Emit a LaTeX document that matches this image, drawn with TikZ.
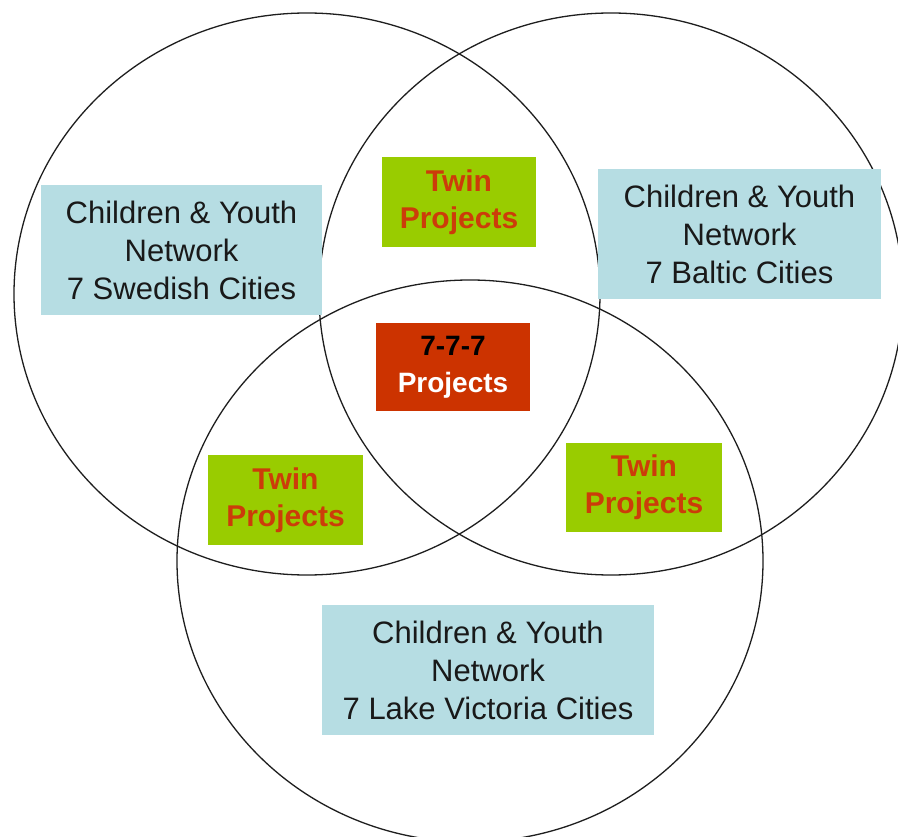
\documentclass[tikz,border=0pt]{standalone}
\usepackage{fontspec}
\setmainfont{Liberation Sans}
\definecolor{netblue}{RGB}{182,221,227}
\definecolor{twingreen}{RGB}{153,204,0}
\definecolor{twintext}{RGB}{204,60,10}
\definecolor{redbox}{RGB}{204,51,0}
\definecolor{ring}{RGB}{30,30,30}
\tikzset{
  ringline/.style={draw=ring, line width=1.3pt},
  netbox/.style={fill=netblue, inner sep=0pt, align=center,
    font=\fontsize{31}{38}\selectfont, text=black!90},
  twinbox/.style={fill=twingreen, inner sep=0pt, align=center,
    font=\fontsize{30}{37}\selectfont\bfseries, text=twintext},
  centerbox/.style={fill=redbox, inner sep=0pt, align=center,
    font=\fontsize{28}{37}\selectfont\bfseries}
}
\begin{document}
\begin{tikzpicture}[x=1pt,y=-1pt]
\useasboundingbox (0,0) rectangle (898,837);
\fill[white] (0,0) rectangle (898,837);
\begin{scope}
\clip (0,0) rectangle (898,837);
\draw[ringline] (307,294) ellipse [x radius=293, y radius=281];
\draw[ringline] (611,294) ellipse [x radius=292, y radius=281];
\draw[ringline] (470,561) ellipse [x radius=293, y radius=281];
\end{scope}
\node[netbox, minimum width=281, minimum height=130] (sweden) at (181.5,250)
  {Children \& Youth\\Network\\7 Swedish Cities};
\node[netbox, minimum width=283, minimum height=130] (baltic) at (739.5,234)
  {Children \& Youth\\Network\\7 Baltic Cities};
\node[netbox, minimum width=332, minimum height=130] (victoria) at (488,670)
  {Children \& Youth\\Network\\7 Lake Victoria Cities};
\node[twinbox, minimum width=154, minimum height=90] (twintop) at (459,202)
  {Twin\\Projects};
\node[twinbox, minimum width=155, minimum height=90] (twinleft) at (285.5,500)
  {Twin\\Projects};
\node[twinbox, minimum width=156, minimum height=89] (twinright) at (644,487.5)
  {Twin\\Projects};
\node[centerbox, minimum width=154, minimum height=88] (center) at (453,367)
  {\textcolor{black}{7-7-7}\\\textcolor{white}{Projects}};
\end{tikzpicture}
\end{document}
